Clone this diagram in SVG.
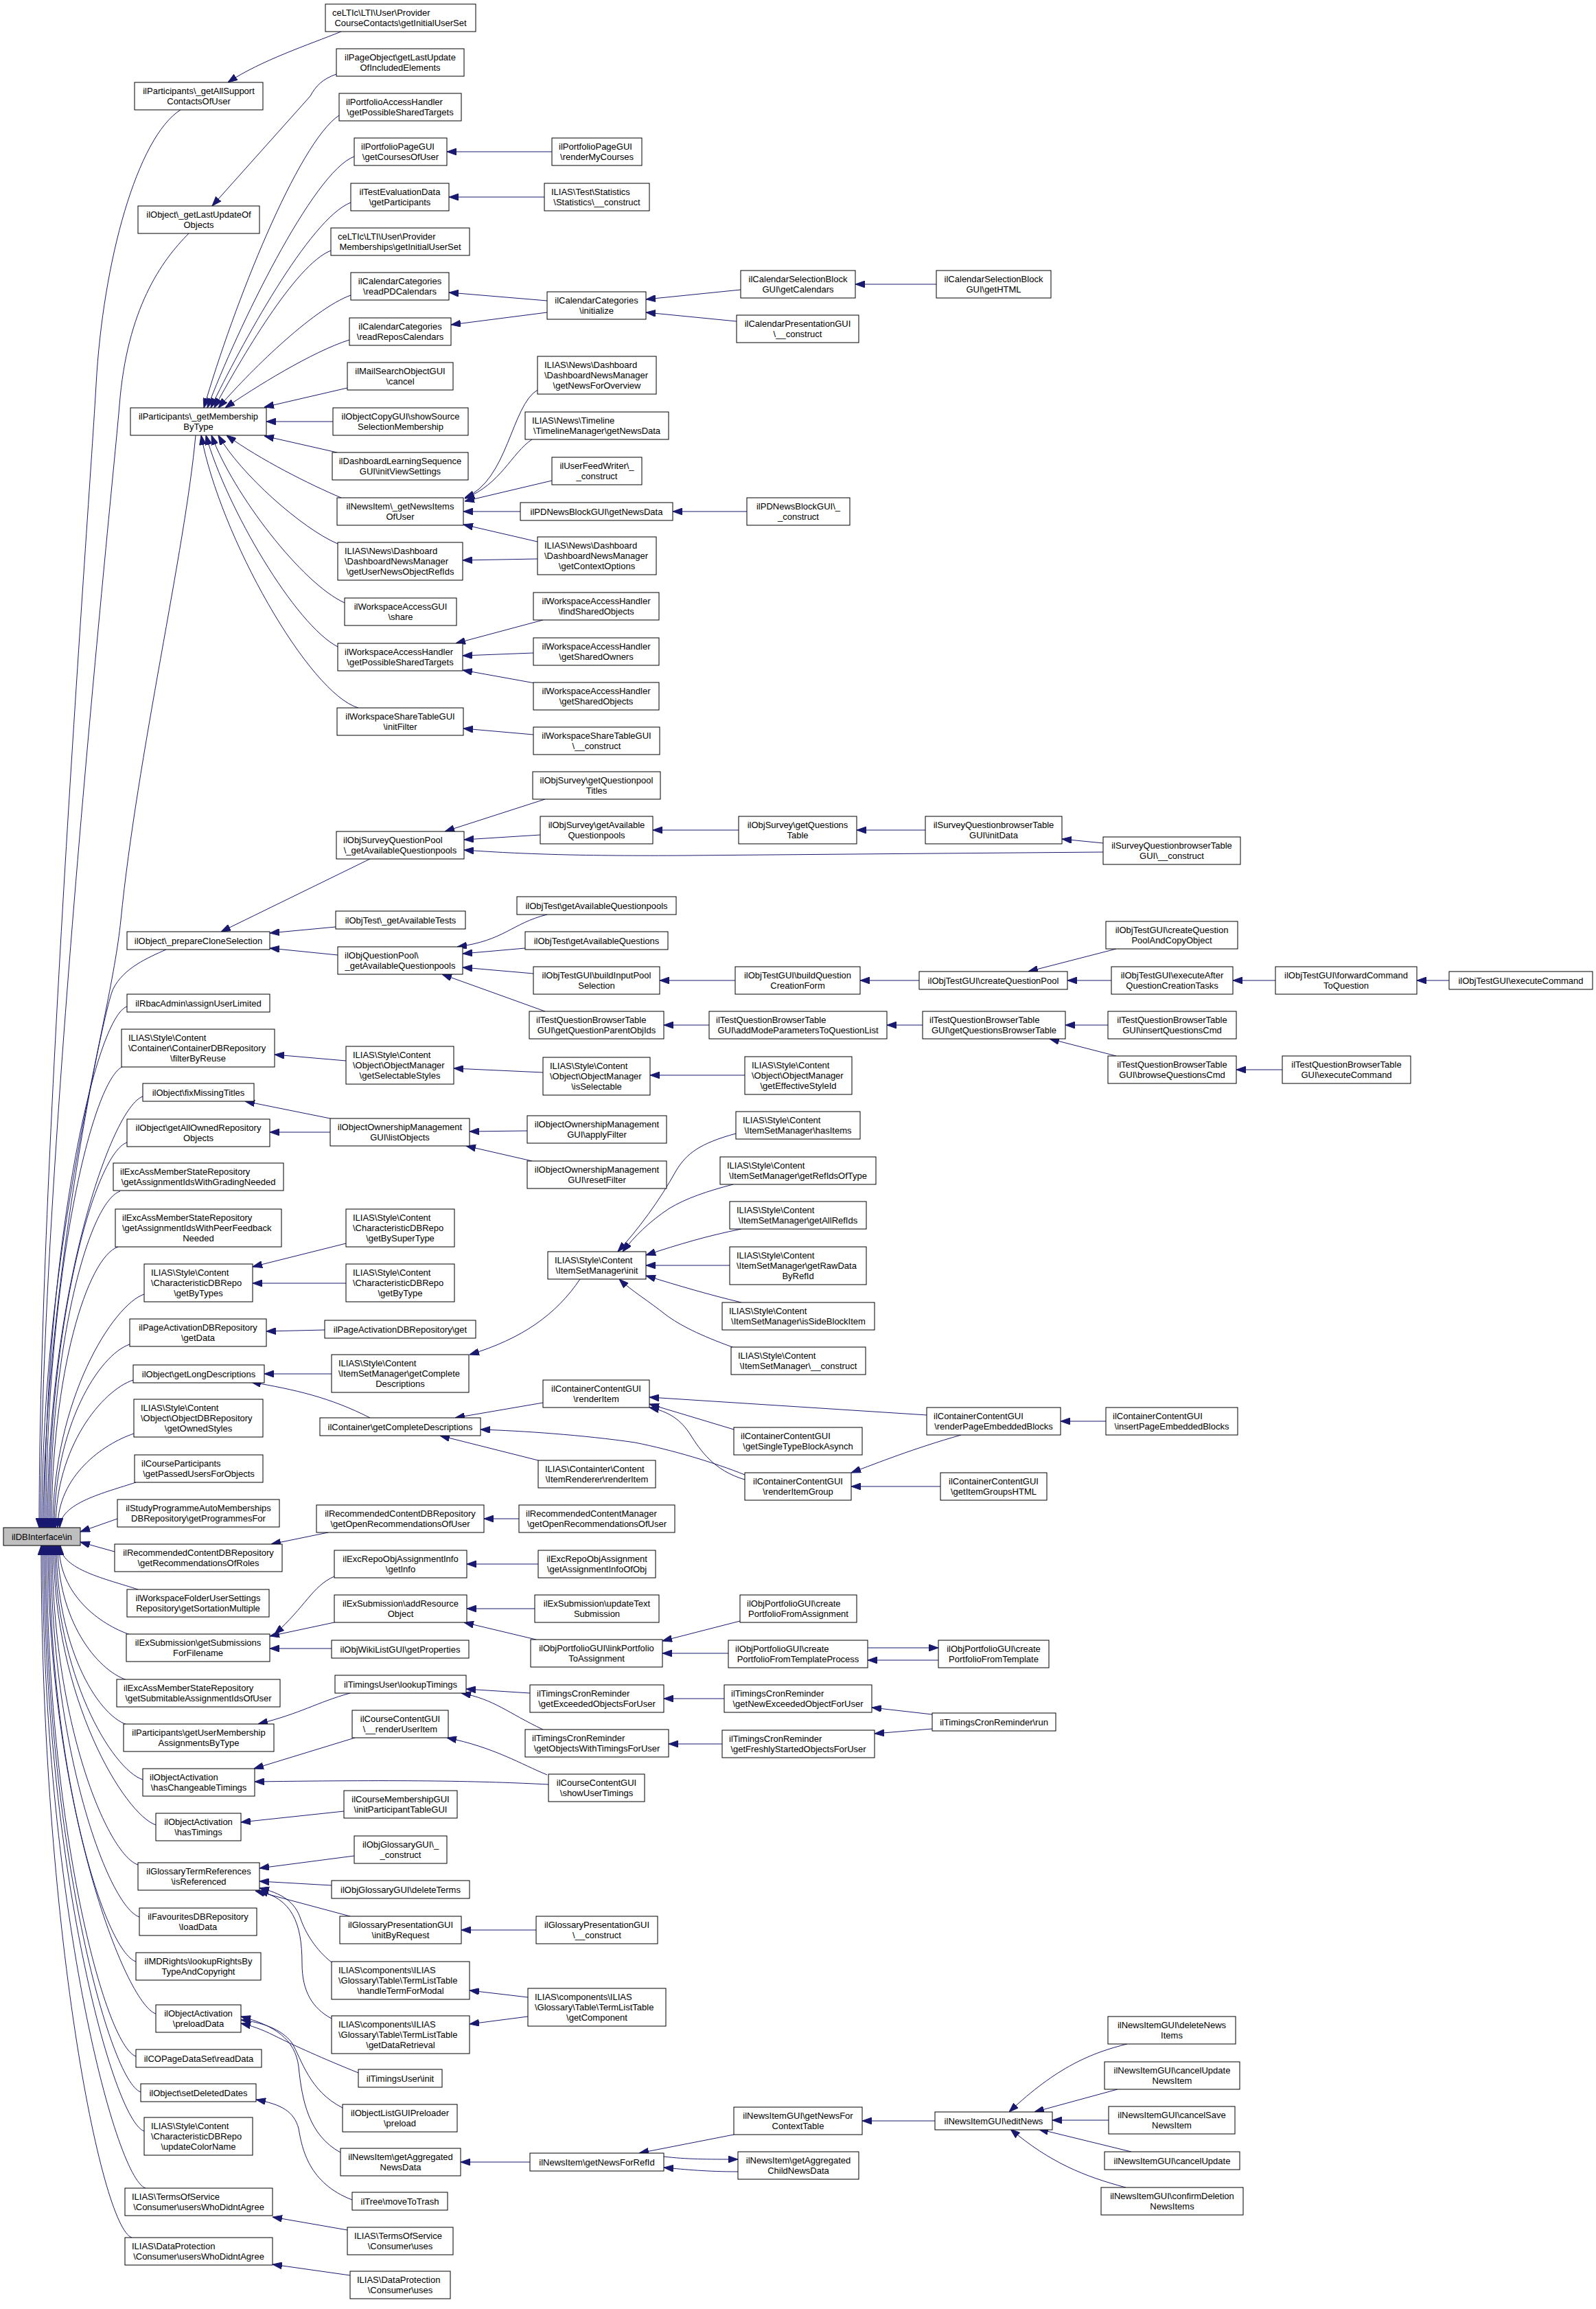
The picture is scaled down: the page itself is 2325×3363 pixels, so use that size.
<svg xmlns="http://www.w3.org/2000/svg" width="2325" height="3363" viewBox="0 0 2325 3363">
<style>
.n rect{fill:#fff;stroke:#000;stroke-width:1}
#n0 rect{fill:#bfbfbf}
text{font-family:"Liberation Sans",Arial,Helvetica,sans-serif;font-size:13px;fill:#000}
.c{text-anchor:middle}
.e path{fill:none;stroke:#191970;stroke-width:1;marker-end:url(#ah)}
</style>
<defs>
<marker id="ah" viewBox="0 0 14 10" refX="14" refY="5" markerWidth="14" markerHeight="10" markerUnits="userSpaceOnUse" orient="auto"><path d="M0,0L14,5L0,10z" fill="#191970" stroke="#191970" stroke-width="1"/></marker>
</defs>
<rect width="2325" height="3363" fill="#fff"/>
<g class="e" id="edges">
<path d="M263,160 C200,200 150,380 140,560 C130,740 57,1700 57,2225"/>
<path d="M275,340 C235,380 185,450 174,590 C165,702 59,1700 59,2225"/>
<path d="M285,634 C270,800 200,1100 176,1340 C160,1500 61,1800 61,2225"/>
<path d="M242,1383 C215,1395 180,1410 165,1440 C150,1470 63,1900 63,2225"/>
<path d="M185,1466 C140,1481 65,1808 65,2225"/>
<path d="M180,1553 C135,1568 67,1855 67,2225"/>
<path d="M208,1597 C163,1612 69,1880 69,2225"/>
<path d="M185,1664 C140,1679 71,1916 71,2225"/>
<path d="M175,1735 C130,1750 73,1955 73,2225"/>
<path d="M172,1816 C127,1831 75,2000 75,2225"/>
<path d="M210,1885 C165,1900 77,2038 77,2225"/>
<path d="M189,1958 C144,1973 79,2078 79,2225"/>
<path d="M194,2010 C149,2025 81,2107 81,2225"/>
<path d="M195,2088 C150,2103 84,2150 84,2225"/>
<path d="M198,2159 C153,2174 87,2189 87,2225"/>
<path d="M171,2212 L117,2231"/>
<path d="M167,2260 L117,2246"/>
<path d="M201,2315 C156,2300 88,2286 88,2251"/>
<path d="M190,2381 C145,2366 86,2322 86,2251"/>
<path d="M185,2447 C140,2432 84,2359 84,2251"/>
<path d="M185,2512 C140,2497 82,2395 82,2251"/>
<path d="M208,2592 C163,2577 80,2439 80,2251"/>
<path d="M227,2658 C182,2643 78,2475 78,2251"/>
<path d="M201,2716 C156,2701 76,2507 76,2251"/>
<path d="M203,2792 C158,2777 74,2549 74,2251"/>
<path d="M198,2857 C153,2842 72,2584 72,2251"/>
<path d="M227,2933 C182,2918 70,2626 70,2251"/>
<path d="M198,2995 C153,2980 68,2660 68,2251"/>
<path d="M205,3047 C160,3032 66,2689 66,2251"/>
<path d="M210,3104 C165,3089 64,2720 64,2251"/>
<path d="M212,3187 C167,3172 62,2766 62,2251"/>
<path d="M192,3259 C147,3244 60,2805 60,2251"/>
<path d="M497,46 C450,65 380,88 332,120"/>
<path d="M490,108 C470,115 460,125 452,140 L309,300"/>
<path d="M494,168 C434,208 340,445 297,594"/>
<path d="M516,228 C456,250 345,480 302,594"/>
<path d="M511,295 C451,318 350,505 307,594"/>
<path d="M482,365 C430,385 350,525 312,594"/>
<path d="M511,430 C455,450 360,545 318,594"/>
<path d="M509,495 C455,512 370,565 328,594"/>
<path d="M506,565 L385,593"/>
<path d="M485,614 L388,614"/>
<path d="M491,659 L385,635"/>
<path d="M497,725 C450,705 380,670 330,634"/>
<path d="M492,792 C440,770 350,690 318,634"/>
<path d="M502,878 C440,850 340,720 308,634"/>
<path d="M492,942 C430,910 330,740 300,634"/>
<path d="M522,1031 C450,1010 320,780 293,634"/>
<path d="M804,221 L651,221"/>
<path d="M793,287 L654,287"/>
<path d="M797,438 L654,426"/>
<path d="M797,455 L657,473"/>
<path d="M1079,422 L941,436"/>
<path d="M1073,468 L941,455"/>
<path d="M1364,414 L1246,414"/>
<path d="M783,568 C745,590 740,700 677,725"/>
<path d="M775,640 C745,660 730,705 677,726"/>
<path d="M804,700 L677,730"/>
<path d="M758,745 L675,745"/>
<path d="M783,789 L675,764"/>
<path d="M783,814 L674,816"/>
<path d="M1088,745 L980,745"/>
<path d="M791,903 L664,937"/>
<path d="M777,951 L674,955"/>
<path d="M779,995 L674,976"/>
<path d="M777,1070 L675,1061"/>
<path d="M794,1164 L648,1211"/>
<path d="M787,1216 L676,1223"/>
<path d="M1607,1241 L1000,1246 C850,1247 760,1244 676,1238"/>
<path d="M1076,1209 L951,1209"/>
<path d="M1348,1209 L1248,1209"/>
<path d="M1607,1228 L1547,1222"/>
<path d="M539,1251 L322,1357"/>
<path d="M489,1350 L393,1359"/>
<path d="M492,1391 L393,1381"/>
<path d="M797,1332 C745,1345 735,1370 666,1379"/>
<path d="M765,1381 L674,1389"/>
<path d="M777,1418 L674,1409"/>
<path d="M794,1473 L644,1419"/>
<path d="M1071,1428 L961,1428"/>
<path d="M1339,1428 L1253,1428"/>
<path d="M1626,1382 L1498,1415"/>
<path d="M1619,1428 L1555,1428"/>
<path d="M1858,1428 L1796,1428"/>
<path d="M2111,1428 L2064,1428"/>
<path d="M1033,1493 L967,1493"/>
<path d="M1344,1493 L1292,1493"/>
<path d="M1614,1493 L1552,1493"/>
<path d="M1626,1538 L1529,1513"/>
<path d="M1868,1558 L1801,1558"/>
<path d="M504,1545 L400,1536"/>
<path d="M791,1562 L661,1556"/>
<path d="M1085,1566 L947,1566"/>
<path d="M481,1629 L357,1604"/>
<path d="M481,1649 L393,1649"/>
<path d="M768,1647 L684,1648"/>
<path d="M775,1691 L679,1669"/>
<path d="M504,1811 L368,1845"/>
<path d="M504,1869 L368,1869"/>
<path d="M473,1937 L388,1939"/>
<path d="M483,2001 L385,2001"/>
<path d="M539,2065 C480,2035 430,2024 366,2013"/>
<path d="M845,1863 C810,1915 760,1950 684,1973"/>
<path d="M1072,1651 C1020,1665 1000,1680 985,1705 C960,1750 930,1790 900,1823"/>
<path d="M1068,1725 C1030,1735 1000,1745 975,1760 C945,1780 925,1800 907,1823"/>
<path d="M1080,1790 C1030,1800 990,1812 941,1828"/>
<path d="M1063,1843 L941,1843"/>
<path d="M1080,1897 C1030,1885 990,1873 941,1858"/>
<path d="M1067,1962 C1020,1945 990,1930 970,1915 C945,1895 920,1880 902,1863"/>
<path d="M791,2043 L663,2065"/>
<path d="M784,2127 L641,2091"/>
<path d="M1085,2148 C1040,2130 980,2112 925,2101 C850,2090 760,2084 700,2082"/>
<path d="M1350,2061 L946,2035"/>
<path d="M1069,2082 L946,2045"/>
<path d="M1085,2155 C1040,2142 1020,2112 1006,2090 C992,2068 975,2056 946,2050"/>
<path d="M1400,2090 C1330,2110 1280,2130 1240,2145"/>
<path d="M1370,2165 L1240,2165"/>
<path d="M1611,2070 L1545,2070"/>
<path d="M478,2232 L395,2249"/>
<path d="M756,2212 L705,2212"/>
<path d="M784,2278 L680,2278"/>
<path d="M487,2296 C455,2310 445,2340 400,2380"/>
<path d="M487,2363 L393,2383"/>
<path d="M483,2401 L393,2401"/>
<path d="M779,2343 L680,2343"/>
<path d="M781,2388 L676,2363"/>
<path d="M1078,2361 L965,2390"/>
<path d="M1061,2408 L965,2408"/>
<path d="M1264,2400 L1367,2400"/>
<path d="M1367,2418 L1264,2418"/>
<path d="M510,2466 C460,2480 440,2495 376,2511"/>
<path d="M772,2466 L679,2460"/>
<path d="M791,2519 C740,2495 720,2475 672,2466"/>
<path d="M1055,2474 L967,2474"/>
<path d="M1052,2540 L974,2540"/>
<path d="M1358,2497 L1270,2487"/>
<path d="M1358,2518 L1274,2525"/>
<path d="M517,2531 L370,2576"/>
<path d="M799,2599 C700,2594 600,2592 371,2595"/>
<path d="M797,2585 C760,2570 720,2545 651,2531"/>
<path d="M501,2638 L351,2654"/>
<path d="M516,2703 L378,2721"/>
<path d="M483,2746 L378,2740"/>
<path d="M510,2791 L372,2754"/>
<path d="M483,2858 C460,2840 445,2815 438,2795 C430,2770 410,2757 378,2750"/>
<path d="M483,2940 C455,2925 440,2900 440,2860 C440,2800 425,2765 376,2754"/>
<path d="M781,2811 L672,2811"/>
<path d="M769,2909 L684,2899"/>
<path d="M769,2937 L684,2948"/>
<path d="M522,3019 C470,2998 430,2980 400,2965 C380,2955 365,2950 351,2947"/>
<path d="M499,3070 C450,3045 440,3000 425,2975 C410,2955 380,2945 351,2942"/>
<path d="M496,3135 C450,3110 440,3060 435,3010 C430,2970 400,2950 351,2937"/>
<path d="M772,3149 L671,3149"/>
<path d="M513,3204 C450,3180 440,3130 435,3100 C428,3075 410,3065 373,3058"/>
<path d="M506,3248 L397,3229"/>
<path d="M510,3314 L397,3298"/>
<path d="M1069,3109 L931,3136"/>
<path d="M967,3141 C1000,3145 1030,3145 1075,3145"/>
<path d="M1075,3163 C1030,3163 1000,3160 967,3157"/>
<path d="M1362,3089 L1256,3089"/>
<path d="M1642,2977 C1590,2990 1540,3010 1470,3076"/>
<path d="M1628,3043 L1507,3076"/>
<path d="M1615,3088 L1533,3088"/>
<path d="M1648,3134 L1513,3101"/>
<path d="M1640,3186 C1580,3170 1530,3150 1472,3101"/>
</g>
<g id="n0" class="n"><rect x="5" y="2225" width="112" height="26"/><text class="c" x="61" y="2242.5">ilDBInterface\in</text></g>
<g id="c1_1" class="n"><rect x="196" y="120" width="187" height="40"/><text class="c" x="289.5" y="137">ilParticipants\_getAllSupport</text><text class="c" x="289.5" y="152">ContactsOfUser</text></g>
<g id="c1_2" class="n"><rect x="201" y="300" width="177" height="40"/><text class="c" x="289.5" y="317">ilObject\_getLastUpdateOf</text><text class="c" x="289.5" y="332">Objects</text></g>
<g id="c1_3" class="n"><rect x="190" y="594" width="198" height="40"/><text class="c" x="289" y="611">ilParticipants\_getMembership</text><text class="c" x="289" y="626">ByType</text></g>
<g id="c1_4" class="n"><rect x="185" y="1357" width="208" height="26"/><text class="c" x="289" y="1374.5">ilObject\_prepareCloneSelection</text></g>
<g id="c1_5" class="n"><rect x="185" y="1448" width="208" height="26"/><text class="c" x="289" y="1465.5">ilRbacAdmin\assignUserLimited</text></g>
<g id="c1_6" class="n"><rect x="177" y="1499" width="223" height="55"/><text x="187" y="1516">ILIAS\Style\Content</text><text x="187" y="1531">\Container\ContainerDBRepository</text><text class="c" x="288.5" y="1546">\filterByReuse</text></g>
<g id="c1_7" class="n"><rect x="208" y="1578" width="162" height="26"/><text class="c" x="289" y="1595.5">ilObject\fixMissingTitles</text></g>
<g id="c1_8" class="n"><rect x="185" y="1630" width="208" height="40"/><text class="c" x="289" y="1647">ilObject\getAllOwnedRepository</text><text class="c" x="289" y="1662">Objects</text></g>
<g id="c1_9" class="n"><rect x="165" y="1694" width="248" height="40"/><text x="175" y="1711">ilExcAssMemberStateRepository</text><text class="c" x="289" y="1726">\getAssignmentIdsWithGradingNeeded</text></g>
<g id="c1_10" class="n"><rect x="168" y="1761" width="242" height="55"/><text x="178" y="1778">ilExcAssMemberStateRepository</text><text x="178" y="1793">\getAssignmentIdsWithPeerFeedback</text><text class="c" x="289" y="1808">Needed</text></g>
<g id="c1_11" class="n"><rect x="210" y="1841" width="158" height="55"/><text x="220" y="1858">ILIAS\Style\Content</text><text x="220" y="1873">\CharacteristicDBRepo</text><text class="c" x="289" y="1888">\getByTypes</text></g>
<g id="c1_12" class="n"><rect x="189" y="1921" width="199" height="40"/><text class="c" x="288.5" y="1938">ilPageActivationDBRepository</text><text class="c" x="288.5" y="1953">\getData</text></g>
<g id="c1_13" class="n"><rect x="194" y="1988" width="191" height="26"/><text class="c" x="289.5" y="2005.5">ilObject\getLongDescriptions</text></g>
<g id="c1_14" class="n"><rect x="195" y="2038" width="188" height="55"/><text x="205" y="2055">ILIAS\Style\Content</text><text x="205" y="2070">\Object\ObjectDBRepository</text><text class="c" x="289" y="2085">\getOwnedStyles</text></g>
<g id="c1_15" class="n"><rect x="196" y="2119" width="187" height="40"/><text x="206" y="2136">ilCourseParticipants</text><text class="c" x="289.5" y="2151">\getPassedUsersForObjects</text></g>
<g id="c1_16" class="n"><rect x="171" y="2184" width="236" height="40"/><text class="c" x="289" y="2201">ilStudyProgrammeAutoMemberships</text><text class="c" x="289" y="2216">DBRepository\getProgrammesFor</text></g>
<g id="c1_17" class="n"><rect x="167" y="2249" width="244" height="40"/><text class="c" x="289" y="2266">ilRecommendedContentDBRepository</text><text class="c" x="289" y="2281">\getRecommendationsOfRoles</text></g>
<g id="c1_18" class="n"><rect x="185" y="2315" width="207" height="40"/><text class="c" x="288.5" y="2332">ilWorkspaceFolderUserSettings</text><text class="c" x="288.5" y="2347">Repository\getSortationMultiple</text></g>
<g id="c1_19" class="n"><rect x="184" y="2380" width="209" height="40"/><text class="c" x="288.5" y="2397">ilExSubmission\getSubmissions</text><text class="c" x="288.5" y="2412">ForFilename</text></g>
<g id="c1_20" class="n"><rect x="170" y="2446" width="238" height="40"/><text x="180" y="2463">ilExcAssMemberStateRepository</text><text class="c" x="289" y="2478">\getSubmitableAssignmentIdsOfUser</text></g>
<g id="c1_21" class="n"><rect x="180" y="2511" width="219" height="40"/><text class="c" x="289.5" y="2528">ilParticipants\getUserMembership</text><text class="c" x="289.5" y="2543">AssignmentsByType</text></g>
<g id="c1_22" class="n"><rect x="208" y="2576" width="163" height="40"/><text x="218" y="2593">ilObjectActivation</text><text class="c" x="289.5" y="2608">\hasChangeableTimings</text></g>
<g id="c1_23" class="n"><rect x="227" y="2641" width="124" height="40"/><text class="c" x="289" y="2658">ilObjectActivation</text><text class="c" x="289" y="2673">\hasTimings</text></g>
<g id="c1_24" class="n"><rect x="201" y="2713" width="177" height="40"/><text class="c" x="289.5" y="2730">ilGlossaryTermReferences</text><text class="c" x="289.5" y="2745">\isReferenced</text></g>
<g id="c1_25" class="n"><rect x="203" y="2779" width="171" height="40"/><text class="c" x="288.5" y="2796">ilFavouritesDBRepository</text><text class="c" x="288.5" y="2811">\loadData</text></g>
<g id="c1_26" class="n"><rect x="198" y="2844" width="182" height="40"/><text class="c" x="289" y="2861">ilMDRights\lookupRightsBy</text><text class="c" x="289" y="2876">TypeAndCopyright</text></g>
<g id="c1_27" class="n"><rect x="227" y="2920" width="124" height="40"/><text class="c" x="289" y="2937">ilObjectActivation</text><text class="c" x="289" y="2952">\preloadData</text></g>
<g id="c1_28" class="n"><rect x="198" y="2985" width="183" height="26"/><text class="c" x="289.5" y="3002.5">ilCOPageDataSet\readData</text></g>
<g id="c1_29" class="n"><rect x="205" y="3035" width="168" height="26"/><text class="c" x="289" y="3052.5">ilObject\setDeletedDates</text></g>
<g id="c1_30" class="n"><rect x="210" y="3084" width="158" height="55"/><text x="220" y="3101">ILIAS\Style\Content</text><text x="220" y="3116">\CharacteristicDBRepo</text><text class="c" x="289" y="3131">\updateColorName</text></g>
<g id="c1_31" class="n"><rect x="182" y="3187" width="215" height="40"/><text x="192" y="3204">ILIAS\TermsOfService</text><text class="c" x="289.5" y="3219">\Consumer\usersWhoDidntAgree</text></g>
<g id="c1_32" class="n"><rect x="182" y="3259" width="215" height="40"/><text x="192" y="3276">ILIAS\DataProtection</text><text class="c" x="289.5" y="3291">\Consumer\usersWhoDidntAgree</text></g>
<g id="c2_1" class="n"><rect x="474" y="6" width="219" height="40"/><text x="484" y="23">ceLTIc\LTI\User\Provider</text><text class="c" x="583.5" y="38">CourseContacts\getInitialUserSet</text></g>
<g id="c2_2" class="n"><rect x="490" y="71" width="186" height="40"/><text class="c" x="583" y="88">ilPageObject\getLastUpdate</text><text class="c" x="583" y="103">OfIncludedElements</text></g>
<g id="c2_3" class="n"><rect x="494" y="136" width="178" height="40"/><text x="504" y="153">ilPortfolioAccessHandler</text><text class="c" x="583" y="168">\getPossibleSharedTargets</text></g>
<g id="c2_4" class="n"><rect x="516" y="201" width="135" height="40"/><text x="526" y="218">ilPortfolioPageGUI</text><text class="c" x="583.5" y="233">\getCoursesOfUser</text></g>
<g id="c2_5" class="n"><rect x="511" y="267" width="143" height="40"/><text class="c" x="582.5" y="284">ilTestEvaluationData</text><text class="c" x="582.5" y="299">\getParticipants</text></g>
<g id="c2_6" class="n"><rect x="482" y="332" width="202" height="40"/><text x="492" y="349">ceLTIc\LTI\User\Provider</text><text class="c" x="583" y="364">Memberships\getInitialUserSet</text></g>
<g id="c2_7" class="n"><rect x="511" y="397" width="143" height="40"/><text class="c" x="582.5" y="414">ilCalendarCategories</text><text class="c" x="582.5" y="429">\readPDCalendars</text></g>
<g id="c2_8" class="n"><rect x="509" y="463" width="148" height="40"/><text class="c" x="583" y="480">ilCalendarCategories</text><text class="c" x="583" y="495">\readReposCalendars</text></g>
<g id="c2_9" class="n"><rect x="506" y="528" width="154" height="40"/><text class="c" x="583" y="545">ilMailSearchObjectGUI</text><text class="c" x="583" y="560">\cancel</text></g>
<g id="c2_10" class="n"><rect x="485" y="594" width="197" height="40"/><text class="c" x="583.5" y="611">ilObjectCopyGUI\showSource</text><text class="c" x="583.5" y="626">SelectionMembership</text></g>
<g id="c2_11" class="n"><rect x="484" y="659" width="198" height="40"/><text class="c" x="583" y="676">ilDashboardLearningSequence</text><text class="c" x="583" y="691">GUI\initViewSettings</text></g>
<g id="c2_12" class="n"><rect x="491" y="725" width="184" height="40"/><text class="c" x="583" y="742">ilNewsItem\_getNewsItems</text><text class="c" x="583" y="757">OfUser</text></g>
<g id="c2_13" class="n"><rect x="492" y="790" width="182" height="55"/><text x="502" y="807">ILIAS\News\Dashboard</text><text x="502" y="822">\DashboardNewsManager</text><text class="c" x="583" y="837">\getUserNewsObjectRefIds</text></g>
<g id="c2_14" class="n"><rect x="502" y="871" width="163" height="40"/><text class="c" x="583.5" y="888">ilWorkspaceAccessGUI</text><text class="c" x="583.5" y="903">\share</text></g>
<g id="c2_15" class="n"><rect x="492" y="937" width="182" height="40"/><text x="502" y="954">ilWorkspaceAccessHandler</text><text class="c" x="583" y="969">\getPossibleSharedTargets</text></g>
<g id="c2_16" class="n"><rect x="491" y="1031" width="184" height="40"/><text class="c" x="583" y="1048">ilWorkspaceShareTableGUI</text><text class="c" x="583" y="1063">\initFilter</text></g>
<g id="c2_17" class="n"><rect x="490" y="1211" width="186" height="40"/><text x="500" y="1228">ilObjSurveyQuestionPool</text><text class="c" x="583" y="1243">\_getAvailableQuestionpools</text></g>
<g id="c2_18" class="n"><rect x="489" y="1327" width="189" height="26"/><text class="c" x="583.5" y="1344.5">ilObjTest\_getAvailableTests</text></g>
<g id="c2_19" class="n"><rect x="492" y="1379" width="182" height="40"/><text x="502" y="1396">ilObjQuestionPool\</text><text class="c" x="583" y="1411">_getAvailableQuestionpools</text></g>
<g id="c2_20" class="n"><rect x="504" y="1524" width="157" height="55"/><text x="514" y="1541">ILIAS\Style\Content</text><text x="514" y="1556">\Object\ObjectManager</text><text class="c" x="582.5" y="1571">\getSelectableStyles</text></g>
<g id="c2_21" class="n"><rect x="481" y="1629" width="203" height="40"/><text class="c" x="582.5" y="1646">ilObjectOwnershipManagement</text><text class="c" x="582.5" y="1661">GUI\listObjects</text></g>
<g id="c2_22" class="n"><rect x="504" y="1761" width="158" height="55"/><text x="514" y="1778">ILIAS\Style\Content</text><text x="514" y="1793">\CharacteristicDBRepo</text><text class="c" x="583" y="1808">\getBySuperType</text></g>
<g id="c2_23" class="n"><rect x="504" y="1841" width="158" height="55"/><text x="514" y="1858">ILIAS\Style\Content</text><text x="514" y="1873">\CharacteristicDBRepo</text><text class="c" x="583" y="1888">\getByType</text></g>
<g id="c2_24" class="n"><rect x="473" y="1923" width="220" height="26"/><text class="c" x="583" y="1940.5">ilPageActivationDBRepository\get</text></g>
<g id="c2_25" class="n"><rect x="483" y="1973" width="200" height="55"/><text x="493" y="1990">ILIAS\Style\Content</text><text x="493" y="2005">\ItemSetManager\getComplete</text><text class="c" x="583" y="2020">Descriptions</text></g>
<g id="c2_26" class="n"><rect x="466" y="2065" width="234" height="26"/><text class="c" x="583" y="2082.5">ilContainer\getCompleteDescriptions</text></g>
<g id="c2_27" class="n"><rect x="461" y="2192" width="244" height="40"/><text class="c" x="583" y="2209">ilRecommendedContentDBRepository</text><text class="c" x="583" y="2224">\getOpenRecommendationsOfUser</text></g>
<g id="c2_28" class="n"><rect x="487" y="2258" width="193" height="40"/><text class="c" x="583.5" y="2275">ilExcRepoObjAssignmentInfo</text><text class="c" x="583.5" y="2290">\getInfo</text></g>
<g id="c2_29" class="n"><rect x="487" y="2323" width="193" height="40"/><text class="c" x="583.5" y="2340">ilExSubmission\addResource</text><text class="c" x="583.5" y="2355">Object</text></g>
<g id="c2_30" class="n"><rect x="483" y="2389" width="200" height="26"/><text class="c" x="583" y="2406.5">ilObjWikiListGUI\getProperties</text></g>
<g id="c2_31" class="n"><rect x="488" y="2440" width="191" height="26"/><text class="c" x="583.5" y="2457.5">ilTimingsUser\lookupTimings</text></g>
<g id="c2_32" class="n"><rect x="513" y="2491" width="140" height="40"/><text class="c" x="583" y="2508">ilCourseContentGUI</text><text class="c" x="583" y="2523">\__renderUserItem</text></g>
<g id="c2_33" class="n"><rect x="501" y="2608" width="165" height="40"/><text class="c" x="583.5" y="2625">ilCourseMembershipGUI</text><text class="c" x="583.5" y="2640">\initParticipantTableGUI</text></g>
<g id="c2_34" class="n"><rect x="516" y="2674" width="135" height="40"/><text class="c" x="583.5" y="2691">ilObjGlossaryGUI\_</text><text class="c" x="583.5" y="2706">_construct</text></g>
<g id="c2_35" class="n"><rect x="483" y="2739" width="201" height="26"/><text class="c" x="583.5" y="2756.5">ilObjGlossaryGUI\deleteTerms</text></g>
<g id="c2_36" class="n"><rect x="495" y="2791" width="177" height="40"/><text class="c" x="583.5" y="2808">ilGlossaryPresentationGUI</text><text class="c" x="583.5" y="2823">\initByRequest</text></g>
<g id="c2_37" class="n"><rect x="483" y="2857" width="201" height="55"/><text x="493" y="2874">ILIAS\components\ILIAS</text><text x="493" y="2889">\Glossary\Table\TermListTable</text><text class="c" x="583.5" y="2904">\handleTermForModal</text></g>
<g id="c2_38" class="n"><rect x="483" y="2936" width="201" height="55"/><text x="493" y="2953">ILIAS\components\ILIAS</text><text x="493" y="2968">\Glossary\Table\TermListTable</text><text class="c" x="583.5" y="2983">\getDataRetrieval</text></g>
<g id="c2_39" class="n"><rect x="522" y="3014" width="122" height="26"/><text class="c" x="583" y="3031.5">ilTimingsUser\init</text></g>
<g id="c2_40" class="n"><rect x="499" y="3065" width="167" height="40"/><text class="c" x="582.5" y="3082">ilObjectListGUIPreloader</text><text class="c" x="582.5" y="3097">\preload</text></g>
<g id="c2_41" class="n"><rect x="496" y="3129" width="175" height="40"/><text class="c" x="583.5" y="3146">ilNewsItem\getAggregated</text><text class="c" x="583.5" y="3161">NewsData</text></g>
<g id="c2_42" class="n"><rect x="513" y="3193" width="139" height="26"/><text class="c" x="582.5" y="3210.5">ilTree\moveToTrash</text></g>
<g id="c2_43" class="n"><rect x="506" y="3244" width="154" height="40"/><text x="516" y="3261">ILIAS\TermsOfService</text><text class="c" x="583" y="3276">\Consumer\uses</text></g>
<g id="c2_44" class="n"><rect x="510" y="3308" width="146" height="40"/><text x="520" y="3325">ILIAS\DataProtection</text><text class="c" x="583" y="3340">\Consumer\uses</text></g>
<g id="c3_1" class="n"><rect x="804" y="201" width="131" height="40"/><text x="814" y="218">ilPortfolioPageGUI</text><text class="c" x="869.5" y="233">\renderMyCourses</text></g>
<g id="c3_2" class="n"><rect x="793" y="267" width="153" height="40"/><text x="803" y="284">ILIAS\Test\Statistics</text><text class="c" x="869.5" y="299">\Statistics\__construct</text></g>
<g id="c3_3" class="n"><rect x="797" y="425" width="144" height="40"/><text class="c" x="869" y="442">ilCalendarCategories</text><text class="c" x="869" y="457">\initialize</text></g>
<g id="c3_4" class="n"><rect x="783" y="519" width="173" height="55"/><text x="793" y="536">ILIAS\News\Dashboard</text><text x="793" y="551">\DashboardNewsManager</text><text class="c" x="869.5" y="566">\getNewsForOverview</text></g>
<g id="c3_5" class="n"><rect x="765" y="600" width="209" height="40"/><text x="775" y="617">ILIAS\News\Timeline</text><text class="c" x="869.5" y="632">\TimelineManager\getNewsData</text></g>
<g id="c3_6" class="n"><rect x="804" y="666" width="131" height="40"/><text class="c" x="869.5" y="683">ilUserFeedWriter\_</text><text class="c" x="869.5" y="698">_construct</text></g>
<g id="c3_7" class="n"><rect x="758" y="732" width="222" height="26"/><text class="c" x="869" y="749.5">ilPDNewsBlockGUI\getNewsData</text></g>
<g id="c3_8" class="n"><rect x="783" y="782" width="173" height="55"/><text x="793" y="799">ILIAS\News\Dashboard</text><text x="793" y="814">\DashboardNewsManager</text><text class="c" x="869.5" y="829">\getContextOptions</text></g>
<g id="c3_9" class="n"><rect x="777" y="863" width="183" height="40"/><text class="c" x="868.5" y="880">ilWorkspaceAccessHandler</text><text class="c" x="868.5" y="895">\findSharedObjects</text></g>
<g id="c3_10" class="n"><rect x="777" y="929" width="183" height="40"/><text class="c" x="868.5" y="946">ilWorkspaceAccessHandler</text><text class="c" x="868.5" y="961">\getSharedOwners</text></g>
<g id="c3_11" class="n"><rect x="777" y="994" width="183" height="40"/><text class="c" x="868.5" y="1011">ilWorkspaceAccessHandler</text><text class="c" x="868.5" y="1026">\getSharedObjects</text></g>
<g id="c3_12" class="n"><rect x="777" y="1059" width="184" height="40"/><text class="c" x="869" y="1076">ilWorkspaceShareTableGUI</text><text class="c" x="869" y="1091">\__construct</text></g>
<g id="c3_13" class="n"><rect x="776" y="1124" width="186" height="40"/><text class="c" x="869" y="1141">ilObjSurvey\getQuestionpool</text><text class="c" x="869" y="1156">Titles</text></g>
<g id="c3_14" class="n"><rect x="787" y="1189" width="164" height="40"/><text class="c" x="869" y="1206">ilObjSurvey\getAvailable</text><text class="c" x="869" y="1221">Questionpools</text></g>
<g id="c3_15" class="n"><rect x="753" y="1306" width="232" height="26"/><text class="c" x="869" y="1323.5">ilObjTest\getAvailableQuestionpools</text></g>
<g id="c3_16" class="n"><rect x="765" y="1357" width="208" height="26"/><text class="c" x="869" y="1374.5">ilObjTest\getAvailableQuestions</text></g>
<g id="c3_17" class="n"><rect x="777" y="1408" width="184" height="40"/><text class="c" x="869" y="1425">ilObjTestGUI\buildInputPool</text><text class="c" x="869" y="1440">Selection</text></g>
<g id="c3_18" class="n"><rect x="771" y="1473" width="196" height="40"/><text x="781" y="1490">ilTestQuestionBrowserTable</text><text class="c" x="869" y="1505">GUI\getQuestionParentObjIds</text></g>
<g id="c3_19" class="n"><rect x="791" y="1540" width="156" height="55"/><text x="801" y="1557">ILIAS\Style\Content</text><text x="801" y="1572">\Object\ObjectManager</text><text class="c" x="869" y="1587">\isSelectable</text></g>
<g id="c3_20" class="n"><rect x="768" y="1625" width="203" height="40"/><text class="c" x="869.5" y="1642">ilObjectOwnershipManagement</text><text class="c" x="869.5" y="1657">GUI\applyFilter</text></g>
<g id="c3_21" class="n"><rect x="768" y="1691" width="203" height="40"/><text class="c" x="869.5" y="1708">ilObjectOwnershipManagement</text><text class="c" x="869.5" y="1723">GUI\resetFilter</text></g>
<g id="c3_22" class="n"><rect x="798" y="1823" width="143" height="40"/><text x="808" y="1840">ILIAS\Style\Content</text><text class="c" x="869.5" y="1855">\ItemSetManager\init</text></g>
<g id="c3_23" class="n"><rect x="791" y="2010" width="155" height="40"/><text class="c" x="868.5" y="2027">ilContainerContentGUI</text><text class="c" x="868.5" y="2042">\renderItem</text></g>
<g id="c3_24" class="n"><rect x="784" y="2127" width="171" height="40"/><text x="794" y="2144">ILIAS\Containter\Content</text><text class="c" x="869.5" y="2159">\ItemRenderer\renderItem</text></g>
<g id="c3_25" class="n"><rect x="756" y="2192" width="227" height="40"/><text x="766" y="2209">ilRecommendedContentManager</text><text class="c" x="869.5" y="2224">\getOpenRecommendationsOfUser</text></g>
<g id="c3_26" class="n"><rect x="784" y="2258" width="171" height="40"/><text class="c" x="869.5" y="2275">ilExcRepoObjAssignment</text><text class="c" x="869.5" y="2290">\getAssignmentInfoOfObj</text></g>
<g id="c3_27" class="n"><rect x="779" y="2323" width="181" height="40"/><text class="c" x="869.5" y="2340">ilExSubmission\updateText</text><text class="c" x="869.5" y="2355">Submission</text></g>
<g id="c3_28" class="n"><rect x="773" y="2388" width="192" height="40"/><text class="c" x="869" y="2405">ilObjPortfolioGUI\linkPortfolio</text><text class="c" x="869" y="2420">ToAssignment</text></g>
<g id="c3_29" class="n"><rect x="772" y="2454" width="195" height="40"/><text x="782" y="2471">ilTimingsCronReminder</text><text class="c" x="869.5" y="2486">\getExceededObjectsForUser</text></g>
<g id="c3_30" class="n"><rect x="765" y="2519" width="209" height="40"/><text x="775" y="2536">ilTimingsCronReminder</text><text class="c" x="869.5" y="2551">\getObjectsWithTimingsForUser</text></g>
<g id="c3_31" class="n"><rect x="799" y="2584" width="140" height="40"/><text class="c" x="869" y="2601">ilCourseContentGUI</text><text class="c" x="869" y="2616">\showUserTimings</text></g>
<g id="c3_32" class="n"><rect x="781" y="2791" width="177" height="40"/><text class="c" x="869.5" y="2808">ilGlossaryPresentationGUI</text><text class="c" x="869.5" y="2823">\__construct</text></g>
<g id="c3_33" class="n"><rect x="769" y="2896" width="201" height="55"/><text x="779" y="2913">ILIAS\components\ILIAS</text><text x="779" y="2928">\Glossary\Table\TermListTable</text><text class="c" x="869.5" y="2943">\getComponent</text></g>
<g id="c3_34" class="n"><rect x="772" y="3136" width="195" height="26"/><text class="c" x="869.5" y="3153.5">ilNewsItem\getNewsForRefId</text></g>
<g id="c4_1" class="n"><rect x="1079" y="394" width="167" height="40"/><text class="c" x="1162.5" y="411">ilCalendarSelectionBlock</text><text class="c" x="1162.5" y="426">GUI\getCalendars</text></g>
<g id="c4_2" class="n"><rect x="1073" y="459" width="178" height="40"/><text class="c" x="1162" y="476">ilCalendarPresentationGUI</text><text class="c" x="1162" y="491">\__construct</text></g>
<g id="c4_3" class="n"><rect x="1088" y="725" width="150" height="40"/><text class="c" x="1163" y="742">ilPDNewsBlockGUI\_</text><text class="c" x="1163" y="757">_construct</text></g>
<g id="c4_4" class="n"><rect x="1076" y="1189" width="172" height="40"/><text class="c" x="1162" y="1206">ilObjSurvey\getQuestions</text><text class="c" x="1162" y="1221">Table</text></g>
<g id="c4_5" class="n"><rect x="1071" y="1408" width="182" height="40"/><text class="c" x="1162" y="1425">ilObjTestGUI\buildQuestion</text><text class="c" x="1162" y="1440">CreationForm</text></g>
<g id="c4_6" class="n"><rect x="1033" y="1473" width="259" height="40"/><text x="1043" y="1490">ilTestQuestionBrowserTable</text><text class="c" x="1162.5" y="1505">GUI\addModeParametersToQuestionList</text></g>
<g id="c4_7" class="n"><rect x="1085" y="1539" width="156" height="55"/><text x="1095" y="1556">ILIAS\Style\Content</text><text x="1095" y="1571">\Object\ObjectManager</text><text class="c" x="1163" y="1586">\getEffectiveStyleId</text></g>
<g id="c4_8" class="n"><rect x="1072" y="1619" width="181" height="40"/><text x="1082" y="1636">ILIAS\Style\Content</text><text class="c" x="1162.5" y="1651">\ItemSetManager\hasItems</text></g>
<g id="c4_9" class="n"><rect x="1049" y="1685" width="227" height="40"/><text x="1059" y="1702">ILIAS\Style\Content</text><text class="c" x="1162.5" y="1717">\ItemSetManager\getRefIdsOfType</text></g>
<g id="c4_10" class="n"><rect x="1063" y="1750" width="199" height="40"/><text x="1073" y="1767">ILIAS\Style\Content</text><text class="c" x="1162.5" y="1782">\ItemSetManager\getAllRefIds</text></g>
<g id="c4_11" class="n"><rect x="1063" y="1816" width="199" height="55"/><text x="1073" y="1833">ILIAS\Style\Content</text><text x="1073" y="1848">\ItemSetManager\getRawData</text><text class="c" x="1162.5" y="1863">ByRefId</text></g>
<g id="c4_12" class="n"><rect x="1052" y="1897" width="222" height="40"/><text x="1062" y="1914">ILIAS\Style\Content</text><text class="c" x="1163" y="1929">\ItemSetManager\isSideBlockItem</text></g>
<g id="c4_13" class="n"><rect x="1065" y="1962" width="196" height="40"/><text x="1075" y="1979">ILIAS\Style\Content</text><text class="c" x="1163" y="1994">\ItemSetManager\__construct</text></g>
<g id="c4_14" class="n"><rect x="1069" y="2079" width="187" height="40"/><text x="1079" y="2096">ilContainerContentGUI</text><text class="c" x="1162.5" y="2111">\getSingleTypeBlockAsynch</text></g>
<g id="c4_15" class="n"><rect x="1085" y="2145" width="155" height="40"/><text class="c" x="1162.5" y="2162">ilContainerContentGUI</text><text class="c" x="1162.5" y="2177">\renderItemGroup</text></g>
<g id="c4_16" class="n"><rect x="1078" y="2323" width="170" height="40"/><text x="1088" y="2340">ilObjPortfolioGUI\create</text><text class="c" x="1163" y="2355">PortfolioFromAssignment</text></g>
<g id="c4_17" class="n"><rect x="1061" y="2389" width="203" height="40"/><text x="1071" y="2406">ilObjPortfolioGUI\create</text><text class="c" x="1162.5" y="2421">PortfolioFromTemplateProcess</text></g>
<g id="c4_18" class="n"><rect x="1055" y="2454" width="215" height="40"/><text x="1065" y="2471">ilTimingsCronReminder</text><text class="c" x="1162.5" y="2486">\getNewExceededObjectForUser</text></g>
<g id="c4_19" class="n"><rect x="1052" y="2520" width="222" height="40"/><text x="1062" y="2537">ilTimingsCronReminder</text><text class="c" x="1163" y="2552">\getFreshlyStartedObjectsForUser</text></g>
<g id="c4_20" class="n"><rect x="1069" y="3069" width="187" height="40"/><text class="c" x="1162.5" y="3086">ilNewsItemGUI\getNewsFor</text><text class="c" x="1162.5" y="3101">ContextTable</text></g>
<g id="c4_21" class="n"><rect x="1075" y="3134" width="176" height="40"/><text class="c" x="1163" y="3151">ilNewsItem\getAggregated</text><text class="c" x="1163" y="3166">ChildNewsData</text></g>
<g id="c5_1" class="n"><rect x="1364" y="394" width="167" height="40"/><text class="c" x="1447.5" y="411">ilCalendarSelectionBlock</text><text class="c" x="1447.5" y="426">GUI\getHTML</text></g>
<g id="c5_2" class="n"><rect x="1348" y="1189" width="199" height="40"/><text class="c" x="1447.5" y="1206">ilSurveyQuestionbrowserTable</text><text class="c" x="1447.5" y="1221">GUI\initData</text></g>
<g id="c5_3" class="n"><rect x="1339" y="1415" width="216" height="26"/><text class="c" x="1447" y="1432.5">ilObjTestGUI\createQuestionPool</text></g>
<g id="c5_4" class="n"><rect x="1344" y="1473" width="208" height="40"/><text x="1354" y="1490">ilTestQuestionBrowserTable</text><text class="c" x="1448" y="1505">GUI\getQuestionsBrowserTable</text></g>
<g id="c5_5" class="n"><rect x="1350" y="2050" width="195" height="40"/><text x="1360" y="2067">ilContainerContentGUI</text><text class="c" x="1447.5" y="2082">\renderPageEmbeddedBlocks</text></g>
<g id="c5_6" class="n"><rect x="1370" y="2145" width="155" height="40"/><text class="c" x="1447.5" y="2162">ilContainerContentGUI</text><text class="c" x="1447.5" y="2177">\getItemGroupsHTML</text></g>
<g id="c5_7" class="n"><rect x="1367" y="2389" width="161" height="40"/><text class="c" x="1447.5" y="2406">ilObjPortfolioGUI\create</text><text class="c" x="1447.5" y="2421">PortfolioFromTemplate</text></g>
<g id="c5_8" class="n"><rect x="1358" y="2495" width="180" height="26"/><text class="c" x="1448" y="2512.5">ilTimingsCronReminder\run</text></g>
<g id="c5_9" class="n"><rect x="1362" y="3076" width="171" height="26"/><text class="c" x="1447.5" y="3093.5">ilNewsItemGUI\editNews</text></g>
<g id="c6_1" class="n"><rect x="1607" y="1219" width="200" height="40"/><text class="c" x="1707" y="1236">ilSurveyQuestionbrowserTable</text><text class="c" x="1707" y="1251">GUI\__construct</text></g>
<g id="c6_2" class="n"><rect x="1611" y="1342" width="192" height="40"/><text class="c" x="1707" y="1359">ilObjTestGUI\createQuestion</text><text class="c" x="1707" y="1374">PoolAndCopyObject</text></g>
<g id="c6_3" class="n"><rect x="1619" y="1408" width="177" height="40"/><text class="c" x="1707.5" y="1425">ilObjTestGUI\executeAfter</text><text class="c" x="1707.5" y="1440">QuestionCreationTasks</text></g>
<g id="c6_4" class="n"><rect x="1614" y="1473" width="187" height="40"/><text class="c" x="1707.5" y="1490">ilTestQuestionBrowserTable</text><text class="c" x="1707.5" y="1505">GUI\insertQuestionsCmd</text></g>
<g id="c6_5" class="n"><rect x="1614" y="1538" width="187" height="40"/><text class="c" x="1707.5" y="1555">ilTestQuestionBrowserTable</text><text class="c" x="1707.5" y="1570">GUI\browseQuestionsCmd</text></g>
<g id="c6_6" class="n"><rect x="1611" y="2050" width="192" height="40"/><text x="1621" y="2067">ilContainerContentGUI</text><text class="c" x="1707" y="2082">\insertPageEmbeddedBlocks</text></g>
<g id="c6_7" class="n"><rect x="1614" y="2937" width="186" height="40"/><text class="c" x="1707" y="2954">ilNewsItemGUI\deleteNews</text><text class="c" x="1707" y="2969">Items</text></g>
<g id="c6_8" class="n"><rect x="1609" y="3003" width="197" height="40"/><text class="c" x="1707.5" y="3020">ilNewsItemGUI\cancelUpdate</text><text class="c" x="1707.5" y="3035">NewsItem</text></g>
<g id="c6_9" class="n"><rect x="1615" y="3068" width="184" height="40"/><text class="c" x="1707" y="3085">ilNewsItemGUI\cancelSave</text><text class="c" x="1707" y="3100">NewsItem</text></g>
<g id="c6_10" class="n"><rect x="1609" y="3134" width="197" height="26"/><text class="c" x="1707.5" y="3151.5">ilNewsItemGUI\cancelUpdate</text></g>
<g id="c6_11" class="n"><rect x="1604" y="3186" width="207" height="40"/><text class="c" x="1707.5" y="3203">ilNewsItemGUI\confirmDeletion</text><text class="c" x="1707.5" y="3218">NewsItems</text></g>
<g id="c7_1" class="n"><rect x="1858" y="1408" width="206" height="40"/><text class="c" x="1961" y="1425">ilObjTestGUI\forwardCommand</text><text class="c" x="1961" y="1440">ToQuestion</text></g>
<g id="c7_2" class="n"><rect x="1868" y="1538" width="187" height="40"/><text class="c" x="1961.5" y="1555">ilTestQuestionBrowserTable</text><text class="c" x="1961.5" y="1570">GUI\executeCommand</text></g>
<g id="c8_1" class="n"><rect x="2111" y="1415" width="209" height="26"/><text class="c" x="2215.5" y="1432.5">ilObjTestGUI\executeCommand</text></g>
</svg>
